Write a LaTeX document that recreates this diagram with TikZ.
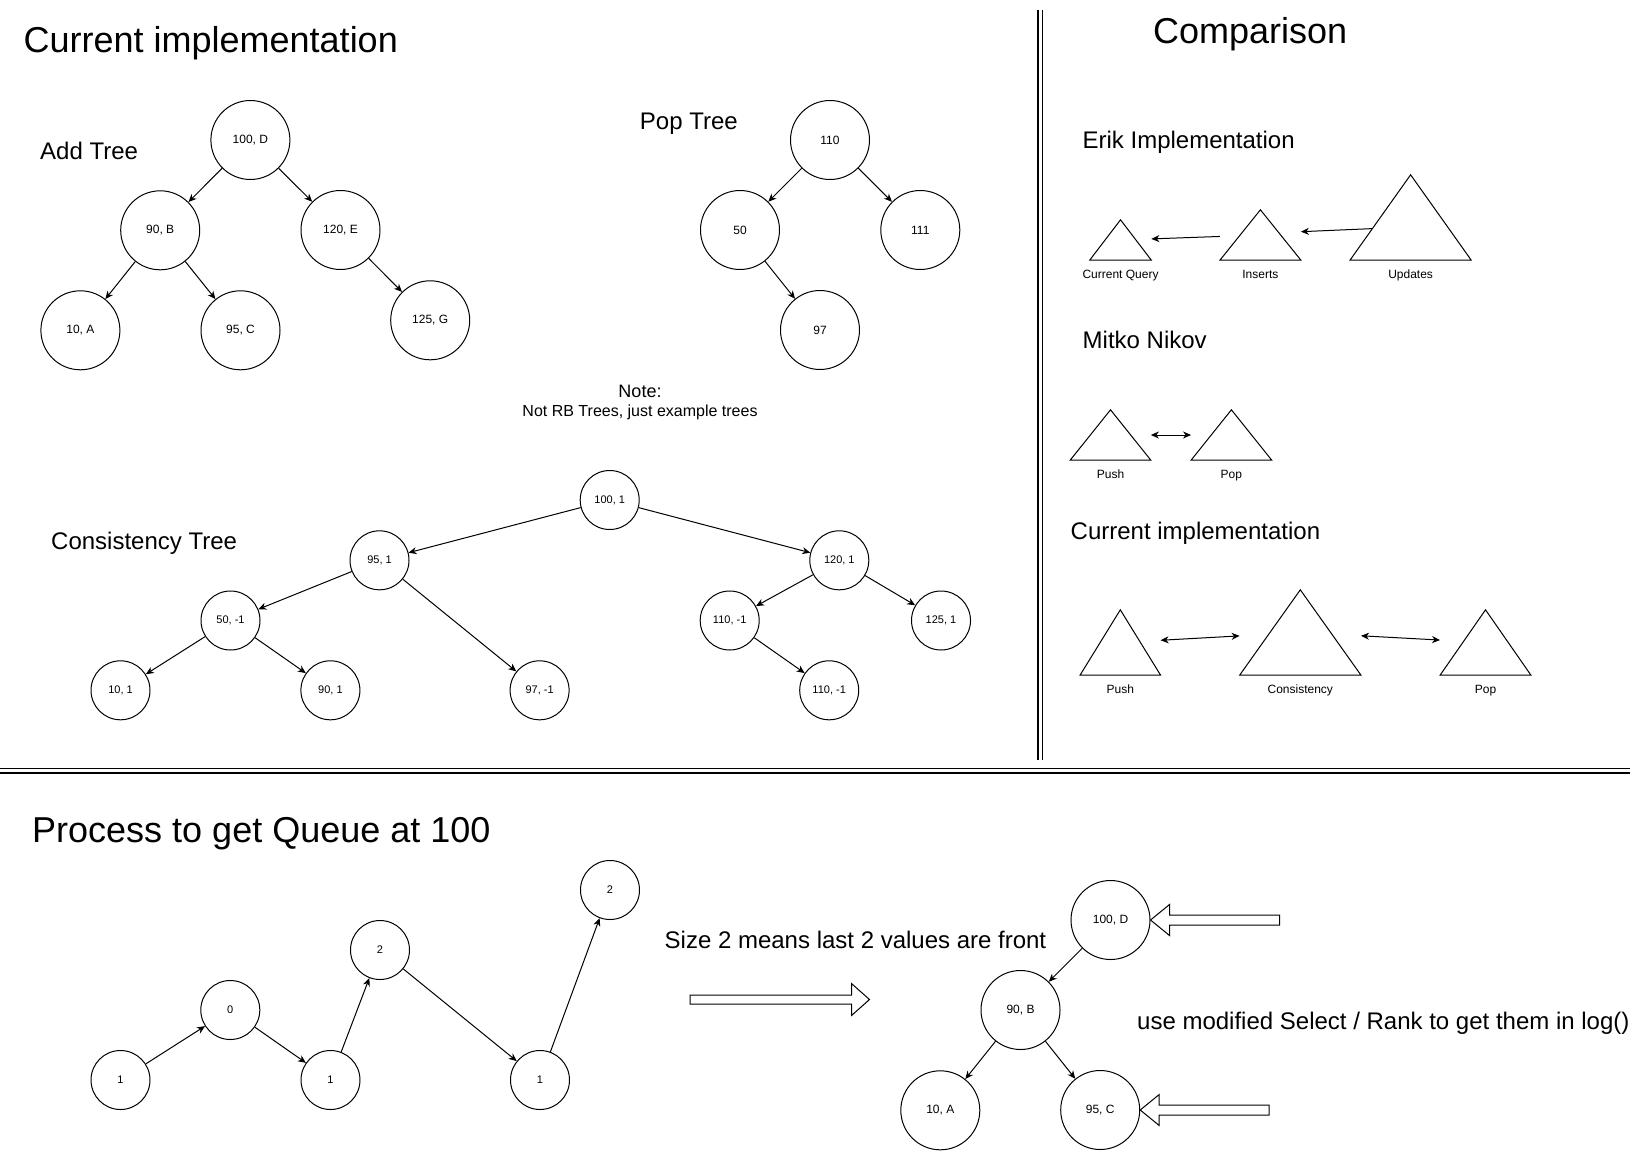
\documentclass[tikz,border=0pt]{standalone}
\usepackage{fontspec}
\setmainfont{Liberation Sans}
\usetikzlibrary{arrows.meta,calc}
\begin{document}
\begin{tikzpicture}[x=1pt,y=-1pt,
  bigc/.style={circle,draw,line width=1pt,minimum size=79pt,inner sep=0pt,font=\fontsize{12}{14}\selectfont},
  smc/.style={circle,draw,line width=1pt,minimum size=59pt,inner sep=0pt,font=\fontsize{11}{13}\selectfont},
  edge/.style={line width=1pt,-{Stealth[length=8pt,width=7pt,inset=2.5pt]}},
  bedge/.style={line width=1pt,{Stealth[length=8pt,width=7pt,inset=2.5pt]}-{Stealth[length=8pt,width=7pt,inset=2.5pt]}},
  hdr/.style={font=\fontsize{36}{40}\selectfont,anchor=base west,inner sep=0pt},
  sub/.style={font=\fontsize{24}{28}\selectfont,anchor=base west,inner sep=0pt},
  lbl/.style={font=\fontsize{12}{14}\selectfont,anchor=base,inner sep=0pt},
  tri/.style 2 args={rectangle,inner sep=0pt,draw=none,minimum width=#1,minimum height=#2},
  triline/.style={line width=1pt,line join=miter},
  dline/.style={line width=1.6pt},
  hollow/.style={line width=1pt,line join=miter}
]
\useasboundingbox (0,0) rectangle (1645,1151);
\fill[white] (0,0) rectangle (1645,1151);

% ---------- separators ----------
\draw[dline] (1038,10) -- (1038,760);
\draw[dline] (1042.5,10) -- (1042.5,760);
\draw[dline] (0,768.5) -- (1630,768.5);
\draw[dline] (0,773) -- (1630,773);

% ---------- titles ----------
\node[hdr] (t1) at (23.5,52.7) {Current implementation};
\node[sub] (t2) at (40,159.3) {Add Tree};
\node[sub] (t3) at (639.7,129.3) {Pop Tree};
\node[font=\fontsize{18}{20}\selectfont,anchor=base,inner sep=0pt] (t4) at (640,397) {Note:};
\node[font=\fontsize{16}{18}\selectfont,anchor=base,inner sep=0pt] (t5) at (640,416) {Not RB Trees, just example trees};
\node[sub] (t6) at (51,549.5) {Consistency Tree};
\node[hdr] (t7) at (1153,43.3) {Comparison};
\node[sub] (t8) at (1082.4,148.5) {Erik Implementation};
\node[sub] (t9) at (1082.5,348.3) {Mitko Nikov};
\node[sub] (t10) at (1070.5,539.3) {Current implementation};
\node[hdr] (t11) at (32,842.3) {Process to get Queue at 100};
\node[sub] (t12) at (664.5,948.3) {Size 2 means last 2 values are front};
\node[sub] (t13) at (1137,1029) {use modified Select / Rank to get them in log()};

% ---------- Add tree ----------
\node[bigc] (aD) at (250.4,140) {100, D};
\node[bigc] (aB) at (160.2,230.3) {90, B};
\node[bigc] (aE) at (340.5,230) {120, E};
\node[bigc] (aA) at (80.4,330.3) {10, A};
\node[bigc] (aC) at (240.5,330.3) {95, C};
\node[bigc] (aG) at (430.2,320.3) {125, G};
\draw[edge] (aD) -- (aB);
\draw[edge] (aD) -- (aE);
\draw[edge] (aB) -- (aA);
\draw[edge] (aB) -- (aC);
\draw[edge] (aE) -- (aG);

% ---------- Pop tree ----------
\node[bigc] (p110) at (830,140) {110};
\node[bigc] (p50) at (740,230) {50};
\node[bigc] (p111) at (920.3,230) {111};
\node[bigc] (p97) at (820,330) {97};
\draw[edge] (p110) -- (p50);
\draw[edge] (p110) -- (p111);
\draw[edge] (p50) -- (p97);

% ---------- Consistency tree ----------
\node[smc] (c100) at (609.7,500) {100, 1};
\node[smc] (c95) at (379.5,560.3) {95, 1};
\node[smc] (c120) at (839.3,560.3) {120, 1};
\node[smc] (c50) at (230.5,620.5) {50, -1};
\node[smc] (c110) at (729.7,620.5) {110, -1};
\node[smc] (c125) at (941,620.5) {125, 1};
\node[smc] (c10) at (120.5,690.3) {10, 1};
\node[smc] (c90) at (330.4,690.3) {90, 1};
\node[smc] (c97) at (539.6,690.3) {97, -1};
\node[smc] (c110b) at (829.2,690.3) {110, -1};
\draw[edge] (c100) -- (c95);
\draw[edge] (c100) -- (c120);
\draw[edge] (c95) -- (c50);
\draw[edge] (c95) -- (c97);
\draw[edge] (c50) -- (c10);
\draw[edge] (c50) -- (c90);
\draw[edge] (c120) -- (c110);
\draw[edge] (c120) -- (c125);
\draw[edge] (c110) -- (c110b);

% ---------- Comparison: Erik ----------
\node[tri={61.3}{40}] (cq) at (1120.5,240) {};
\draw[triline] (cq.south west) -- (cq.north) -- (cq.south east) -- cycle;
\node[tri={80.6}{50}] (ins) at (1260.4,235) {};
\draw[triline] (ins.south west) -- (ins.north) -- (ins.south east) -- cycle;
\node[tri={120.9}{85}] (upd) at (1410.6,217.5) {};
\draw[triline] (upd.south west) -- (upd.north) -- (upd.south east) -- cycle;
\node[lbl] (lcq) at ($(cq.south)+(0,18)$) {Current Query};
\node[lbl] (lins) at ($(ins.south)+(0,18)$) {Inserts};
\node[lbl] (lupd) at ($(upd.south)+(0,18)$) {Updates};
\coordinate (updout) at ($(upd.south west)!0.37!(upd.north)$);
\coordinate (insin) at ($(ins.east)+(0,-3.3)$);
\draw[edge] (ins) -- (cq);
\draw[edge] (updout) -- (insin);

% ---------- Comparison: Mitko ----------
\node[tri={80.3}{50}] (mpush) at (1110.5,435) {};
\draw[triline] (mpush.south west) -- (mpush.north) -- (mpush.south east) -- cycle;
\node[tri={80.3}{50}] (mpop) at (1231.4,435) {};
\draw[triline] (mpop.south west) -- (mpop.north) -- (mpop.south east) -- cycle;
\node[lbl] (lmpush) at ($(mpush.south)+(0,18)$) {Push};
\node[lbl] (lmpop) at ($(mpop.south)+(0,18)$) {Pop};
\draw[bedge] (mpush) -- (mpop);

% ---------- Comparison: Current ----------
\node[tri={80.2}{65}] (cpush) at (1120.3,642.5) {};
\draw[triline] (cpush.south west) -- (cpush.north) -- (cpush.south east) -- cycle;
\node[tri={121}{85}] (ccons) at (1300.3,632.5) {};
\draw[triline] (ccons.south west) -- (ccons.north) -- (ccons.south east) -- cycle;
\node[tri={90.5}{65}] (cpop) at (1485.5,642.5) {};
\draw[triline] (cpop.south west) -- (cpop.north) -- (cpop.south east) -- cycle;
\node[lbl] (lcpush) at ($(cpush.south)+(0,18)$) {Push};
\node[lbl] (lccons) at ($(ccons.south)+(0,18)$) {Consistency};
\node[lbl] (lcpop) at ($(cpop.south)+(0,18)$) {Pop};
\draw[bedge] (cpush) -- (ccons);
\draw[bedge] (ccons) -- (cpop);

% ---------- Queue process ----------
\node[smc] (q1) at (120.5,1080) {1};
\node[smc] (q2) at (230.3,1010) {0};
\node[smc] (q3) at (330.5,1080) {1};
\node[smc] (q4) at (380,950) {2};
\node[smc] (q5) at (540,1080) {1};
\node[smc] (q6) at (610,890) {2};
\draw[edge] (q1) -- (q2);
\draw[edge] (q2) -- (q3);
\draw[edge] (q3) -- (q4);
\draw[edge] (q4) -- (q5);
\draw[edge] (q5) -- (q6);

% big hollow arrow
\coordinate (bigtail) at (690,999.5);
\draw[hollow] (bigtail) ++(0,-4.5) -- ++(161.5,0) -- ++(0,-11.5) -- ++(18,16) -- ++(-18,16) -- ++(0,-11.5) -- ++(-161.5,0) -- cycle;

% ---------- resulting tree ----------
\node[bigc] (rD) at (1110.5,920) {100, D};
\node[bigc] (rB) at (1020.5,1010) {90, B};
\node[bigc] (rA) at (940.3,1110.3) {10, A};
\node[bigc] (rC) at (1100.2,1110) {95, C};
\draw[edge] (rD) -- (rB);
\draw[edge] (rB) -- (rA);
\draw[edge] (rB) -- (rC);

% hollow pointer arrows
\draw[hollow] (rD.east) -- ++(19,-15.5) -- ++(0,10.5) -- ++(110,0) -- ++(0,10) -- ++(-110,0) -- ++(0,10.5) -- cycle;
\draw[hollow] (rC.east) -- ++(19,-15.5) -- ++(0,10.5) -- ++(110,0) -- ++(0,10) -- ++(-110,0) -- ++(0,10.5) -- cycle;

\end{tikzpicture}
\end{document}
